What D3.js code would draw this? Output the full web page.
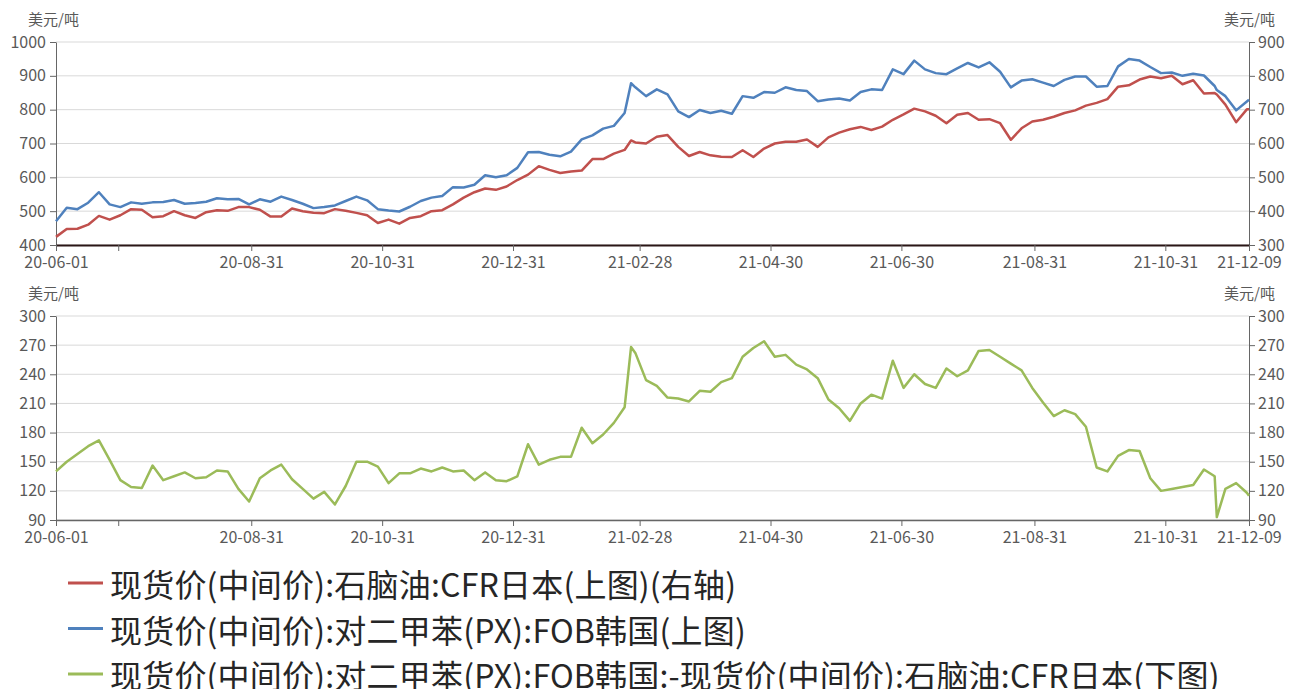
<!DOCTYPE html>
<html>
<head>
<meta charset="utf-8">
<script src="https://cdn.jsdelivr.net/npm/d3@7"></script>
<style>
  body { margin: 0; background: #fff; }
  text { font-family: "Microsoft YaHei", "Noto Sans CJK SC", sans-serif; }
</style>
</head>
<body>
<svg id="chart" width="1301" height="689"></svg>
<script>
// observation dates (shared by all three series)
const dates = [
  '2020-06-01','2020-06-06','2020-06-11','2020-06-16','2020-06-21','2020-06-26',
  '2020-07-01','2020-07-06','2020-07-11','2020-07-16','2020-07-21','2020-07-26','2020-07-31',
  '2020-08-05','2020-08-10','2020-08-15','2020-08-20','2020-08-25','2020-08-30',
  '2020-09-04','2020-09-09','2020-09-14','2020-09-19','2020-09-24','2020-09-29',
  '2020-10-04','2020-10-09','2020-10-14','2020-10-19','2020-10-24','2020-10-29',
  '2020-11-03','2020-11-08','2020-11-13','2020-11-18','2020-11-23','2020-11-28',
  '2020-12-03','2020-12-08','2020-12-13','2020-12-18','2020-12-23','2020-12-28',
  '2021-01-02','2021-01-07','2021-01-12','2021-01-17','2021-01-22','2021-01-27',
  '2021-02-01','2021-02-06','2021-02-11','2021-02-16','2021-02-21','2021-02-24','2021-02-26',
  '2021-03-03','2021-03-08','2021-03-13','2021-03-18','2021-03-23','2021-03-28',
  '2021-04-02','2021-04-07','2021-04-12','2021-04-17','2021-04-22','2021-04-27',
  '2021-05-02','2021-05-07','2021-05-12','2021-05-17','2021-05-22','2021-05-27',
  '2021-06-01','2021-06-06','2021-06-11','2021-06-16','2021-06-21','2021-06-26',
  '2021-07-01','2021-07-06','2021-07-11','2021-07-16','2021-07-21','2021-07-26','2021-07-31',
  '2021-08-05','2021-08-10','2021-08-15','2021-08-20','2021-08-25','2021-08-30',
  '2021-09-04','2021-09-09','2021-09-14','2021-09-19','2021-09-24','2021-09-29',
  '2021-10-04','2021-10-09','2021-10-14','2021-10-19','2021-10-24','2021-10-29',
  '2021-11-03','2021-11-08','2021-11-13','2021-11-18','2021-11-23','2021-11-24','2021-11-28',
  '2021-12-03','2021-12-08','2021-12-09'
];

// PX FOB Korea, USD/t (top panel, left axis)
const pxKorea = [
  470,510,506,525,556,520,
  512,526,522,526,527,533,522,
  524,528,538,535,536,520,
  535,528,543,533,522,509,
  512,517,530,543,532,506,
  502,499,513,530,540,545,
  571,570,578,606,600,606,
  628,674,675,667,662,676,
  712,724,744,752,790,878,866,
  840,860,845,795,778,799,
  790,797,788,840,835,852,
  850,866,858,855,825,830,
  833,827,852,860,858,919,
  905,945,919,908,905,922,938,
  925,940,912,866,886,890,
  880,870,888,898,898,868,
  870,928,950,945,926,908,
  910,900,906,901,870,858,840,
  798,824,829
];

// Naphtha CFR Japan, USD/t (top panel, right axis)
const naphthaJapan = [
  324,347,348,360,386,375,
  388,406,404,382,385,400,388,
  380,397,403,401,412,412,
  404,384,384,408,400,395,
  394,406,401,395,388,365,
  375,363,380,385,400,403,
  420,440,456,467,463,473,
  492,508,533,522,513,517,
  520,554,554,570,581,609,603,
  600,620,625,590,563,575,
  565,561,560,580,560,585,
  600,605,605,612,590,618,
  632,642,649,640,650,670,
  686,703,695,682,660,685,690,
  670,672,660,611,645,665,
  670,679,690,698,712,720,
  731,768,772,789,798,793,
  800,775,787,748,749,745,715,
  663,701,701
];

// PX minus naphtha spread, USD/t (bottom panel)
const pxSpread = [
  140,150,158,166,172,152,
  131,124,123,146,131,135,139,
  133,134,141,140,122,109,
  133,141,147,132,122,112,
  119,106,125,150,150,145,
  128,138,138,143,140,144,
  140,141,131,139,131,130,
  135,168,147,152,155,155,
  185,169,178,190,206,268,262,
  234,228,216,215,212,223,
  222,232,236,258,267,274,
  258,260,250,245,236,214,
  205,192,210,219,215,254,
  226,240,230,226,246,238,244,
  264,265,258,251,244,226,
  211,197,203,199,186,144,
  140,156,162,161,133,120,
  122,124,126,142,135,93,122,
  128,118,115
];

const xTicks = ['2020-06-01','2020-06-30','2020-08-31','2020-10-31','2020-12-31',
  '2021-02-28','2021-04-30','2021-06-30','2021-08-31','2021-10-31','2021-12-09'];
const xTickLabels = ['20-06-01','','20-08-31','20-10-31','20-12-31',
  '21-02-28','21-04-30','21-06-30','21-08-31','21-10-31','21-12-09'];

const topLeftTicks = [400, 500, 600, 700, 800, 900, 1000];
const topRightTicks = [300, 400, 500, 600, 700, 800, 900];
const bottomTicks = [90, 120, 150, 180, 210, 240, 270, 300];

const unitLabel = '美元/吨';
const legendLabels = [
  '现货价(中间价):石脑油:CFR日本(上图)(右轴)',
  '现货价(中间价):对二甲苯(PX):FOB韩国(上图)',
  '现货价(中间价):对二甲苯(PX):FOB韩国:-现货价(中间价):石脑油:CFR日本(下图)'
];
const colors = ['#c0504d', '#4f81bd', '#9bbb59'];

const parse = d3.timeParse('%Y-%m-%d');
const svg = d3.select('#chart');
const left = 56, right = 1249;
const textColor = '#595959';

const x = d3.scaleTime()
  .domain([parse(dates[0]), parse(dates[dates.length - 1])])
  .range([left, right]);

/**
 * Draw one panel: gridlines, both y axes, the date axis and unit labels.
 */
function drawPanel(top, bottom, yLeft, yRight, leftTicks, rightTicks, baseStroke, baseWidth) {
  const g = svg.append('g');

  g.append('g')
    .selectAll('line')
    .data(leftTicks)
    .join('line')
    .attr('x1', left).attr('x2', right)
    .attr('y1', (d) => yLeft(d)).attr('y2', (d) => yLeft(d))
    .attr('stroke', '#d9d9d9').attr('stroke-width', 1);

  const ax = g.append('g')
    .attr('transform', `translate(${left},0)`)
    .call(d3.axisLeft(yLeft).tickValues(leftTicks).tickFormat(d3.format('d'))
      .tickSize(6).tickPadding(4).tickSizeOuter(0));

  const ay = g.append('g')
    .attr('transform', `translate(${right},0)`)
    .call(d3.axisRight(yRight).tickValues(rightTicks).tickFormat(d3.format('d'))
      .tickSize(6).tickPadding(3).tickSizeOuter(0));

  const axb = g.append('g')
    .attr('transform', `translate(0,${bottom})`)
    .call(d3.axisBottom(x)
      .tickValues(xTicks.map(parse))
      .tickFormat((d, i) => xTickLabels[i])
      .tickSize(6).tickPadding(6).tickSizeOuter(0));
  axb.select('.domain').attr('stroke', baseStroke).attr('stroke-width', baseWidth);

  [ax, ay, axb].forEach((a) => {
    a.selectAll('text').attr('fill', textColor).style('font-size', '16px');
    a.selectAll('.tick line').attr('stroke', '#666');
  });
  ax.select('.domain').attr('stroke', '#666');
  ay.select('.domain').attr('stroke', '#666');

  g.append('text').text(unitLabel)
    .attr('x', 28).attr('y', top - 24)
    .attr('dominant-baseline', 'central')
    .attr('fill', textColor).style('font-size', '15px');
  g.append('text').text(unitLabel)
    .attr('x', 1275).attr('y', top - 24)
    .attr('text-anchor', 'end')
    .attr('dominant-baseline', 'central')
    .attr('fill', textColor).style('font-size', '15px');
}

function drawLine(values, y, color) {
  const line = d3.line()
    .x((d, i) => x(parse(dates[i])))
    .y((d) => y(d));
  svg.append('path')
    .datum(values)
    .attr('d', line)
    .attr('fill', 'none')
    .attr('stroke', color)
    .attr('stroke-width', 2.5)
    .attr('stroke-linejoin', 'round');
}

// top panel
const yTopLeft = d3.scaleLinear().domain([400, 1000]).range([245, 42]);
const yTopRight = d3.scaleLinear().domain([300, 900]).range([245, 42]);
drawPanel(42, 245, yTopLeft, yTopRight, topLeftTicks, topRightTicks, '#2a1616', 2);
drawLine(naphthaJapan, yTopRight, colors[0]);
drawLine(pxKorea, yTopLeft, colors[1]);

// bottom panel
const yBottom = d3.scaleLinear().domain([90, 300]).range([520, 316]);
drawPanel(316, 520, yBottom, yBottom, bottomTicks, bottomTicks, '#666', 1.5);
drawLine(pxSpread, yBottom, colors[2]);

// legend
const legend = svg.append('g');
legendLabels.forEach((label, i) => {
  const ly = 583 + i * 45.5;
  legend.append('line')
    .attr('x1', 68).attr('x2', 103)
    .attr('y1', ly).attr('y2', ly)
    .attr('stroke', colors[i]).attr('stroke-width', 3);
  legend.append('text').text(label)
    .attr('x', 110).attr('y', ly)
    .attr('dominant-baseline', 'central')
    .attr('fill', '#262626')
    .style('font-size', '32px')
    .style('letter-spacing', '0.2px');
});
</script>
</body>
</html>
